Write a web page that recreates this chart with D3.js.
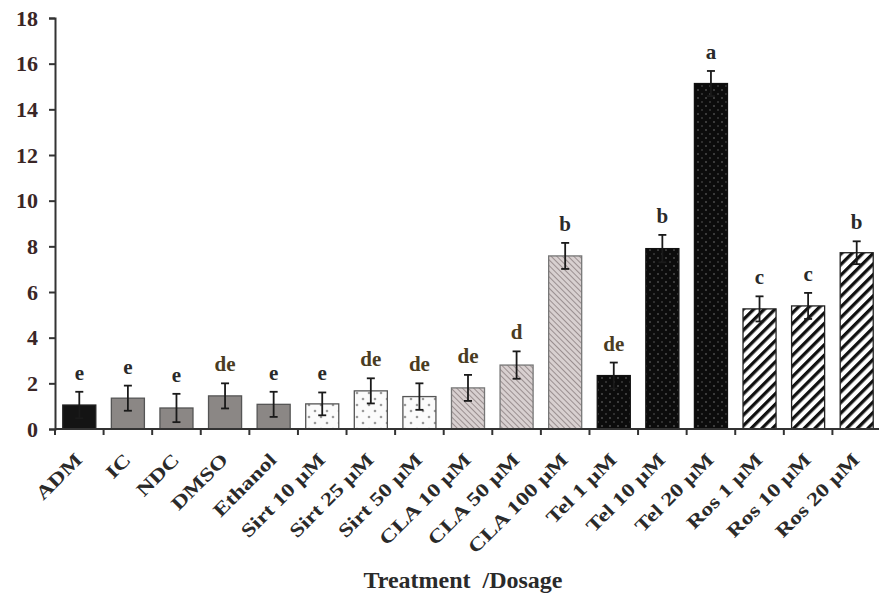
<!DOCTYPE html>
<html>
<head>
<meta charset="utf-8">
<script src="https://cdn.jsdelivr.net/npm/d3@7"></script>
<style>
  html, body { margin: 0; padding: 0; background: #fff; }
  svg { display: block; }
  text { font-family: "Liberation Serif", "Times New Roman", serif; font-weight: bold; }
</style>
</head>
<body>
<svg id="chart" width="879" height="601"></svg>
<script>
// Treatments along the x axis
const categories = ["ADM", "IC", "NDC", "DMSO", "Ethanol",
  "Sirt 10 µM", "Sirt 25 µM", "Sirt 50 µM",
  "CLA 10 µM", "CLA 50 µM", "CLA 100 µM",
  "Tel 1 µM", "Tel 10 µM", "Tel 20 µM",
  "Ros 1 µM", "Ros 10 µM", "Ros 20 µM"];

// Treatment group of each bar (drives the fill)
const groups = ["adm", "control", "control", "control", "control",
  "sirt", "sirt", "sirt",
  "cla", "cla", "cla",
  "tel", "tel", "tel",
  "ros", "ros", "ros"];

// Mean response and standard error
const means  = [1.05, 1.35, 0.92, 1.45, 1.08, 1.1, 1.67, 1.42, 1.8, 2.8, 7.58, 2.34, 7.9, 15.13, 5.26, 5.39, 7.72];
const errors = [0.58, 0.55, 0.62, 0.55, 0.55, 0.5, 0.55, 0.58, 0.57, 0.6, 0.57, 0.57, 0.6, 0.55, 0.55, 0.57, 0.5];

// Significance letters
const letters = ["e", "e", "e", "de", "e", "e", "de", "de", "de", "d", "b", "de", "b", "a", "c", "c", "b"];

const yTicks = [0, 2, 4, 6, 8, 10, 12, 14, 16, 18];
const xTitle = "Treatment  /Dosage";

(function draw() {
  const svg = d3.select("#chart");
  const W = 879, H = 601;
  const mLeft = 55, mRight = 881, mTop = 18, base = 429;

  svg.append("rect").attr("width", W).attr("height", H).attr("fill", "#fff");

  // ---- fill patterns ----
  const defs = svg.append("defs");

  // white with sparse grey dots
  const pSirt = defs.append("pattern").attr("id", "p-sirt")
    .attr("patternUnits", "userSpaceOnUse").attr("width", 12).attr("height", 12);
  pSirt.append("rect").attr("width", 12).attr("height", 12).attr("fill", "#fbfbfb");
  pSirt.append("circle").attr("cx", 3).attr("cy", 3).attr("r", 1.3).attr("fill", "#9a9a9a");
  pSirt.append("circle").attr("cx", 9).attr("cy", 9).attr("r", 1.3).attr("fill", "#9a9a9a");

  // fine back-slash hatch on pale grey
  const pCla = defs.append("pattern").attr("id", "p-cla")
    .attr("patternUnits", "userSpaceOnUse").attr("width", 4).attr("height", 4)
    .attr("patternTransform", "rotate(-45)");
  pCla.append("rect").attr("width", 4).attr("height", 4).attr("fill", "#d8d0d0");
  pCla.append("line").attr("x1", 0).attr("y1", 0).attr("x2", 0).attr("y2", 4)
    .attr("stroke", "#8a7f80").attr("stroke-width", 1.6);

  // black with faint dots
  const pTel = defs.append("pattern").attr("id", "p-tel")
    .attr("patternUnits", "userSpaceOnUse").attr("width", 8).attr("height", 8);
  pTel.append("rect").attr("width", 8).attr("height", 8).attr("fill", "#0c0c0c");
  pTel.append("circle").attr("cx", 2).attr("cy", 2).attr("r", 1).attr("fill", "#4a4a4a");
  pTel.append("circle").attr("cx", 6).attr("cy", 6).attr("r", 1).attr("fill", "#3a3a3a");

  // bold forward-slash stripes
  const pRos = defs.append("pattern").attr("id", "p-ros")
    .attr("patternUnits", "userSpaceOnUse").attr("width", 7.5).attr("height", 10)
    .attr("patternTransform", "rotate(45)");
  pRos.append("rect").attr("width", 7.5).attr("height", 10).attr("fill", "#fff");
  pRos.append("rect").attr("x", 0).attr("y", 0).attr("width", 3.3).attr("height", 10).attr("fill", "#111");

  const fills = {
    adm: "#141414",
    control: "#8b8785",
    sirt: "url(#p-sirt)",
    cla: "url(#p-cla)",
    tel: "url(#p-tel)",
    ros: "url(#p-ros)"
  };
  const strokes = {
    adm: "#222", control: "#555", sirt: "#555", cla: "#777", tel: "#111", ros: "#222"
  };

  // ---- scales ----
  const x = d3.scaleBand().domain(categories).range([mLeft, mRight])
    .paddingInner(0.32).paddingOuter(0.16);
  const y = d3.scaleLinear().domain([0, 18]).range([base, mTop]);

  const rows = categories.map((c, i) => ({ c, g: groups[i], m: means[i], e: errors[i], l: letters[i] }));

  // ---- bars ----
  svg.append("g").selectAll("rect").data(rows).join("rect")
    .attr("x", d => x(d.c))
    .attr("y", d => y(d.m))
    .attr("width", x.bandwidth())
    .attr("height", d => y(0) - y(d.m))
    .attr("fill", d => fills[d.g])
    .attr("stroke", d => strokes[d.g])
    .attr("stroke-width", 1.3);

  // ---- error bars ----
  const eb = svg.append("g").attr("stroke", "#1a1a1a").attr("stroke-width", 1.8);
  rows.forEach(d => {
    const cx = x(d.c) + x.bandwidth() / 2;
    const y1 = y(d.m + d.e), y2 = y(d.m - d.e);
    eb.append("line").attr("x1", cx).attr("x2", cx).attr("y1", y1).attr("y2", y2);
    eb.append("line").attr("x1", cx - 4).attr("x2", cx + 4).attr("y1", y1).attr("y2", y1);
    eb.append("line").attr("x1", cx - 4).attr("x2", cx + 4).attr("y1", y2).attr("y2", y2);
  });

  // ---- significance letters ----
  svg.append("g").selectAll("text").data(rows).join("text")
    .attr("x", d => x(d.c) + x.bandwidth() / 2)
    .attr("y", d => y(d.m + d.e) - 12)
    .attr("text-anchor", "middle")
    .attr("font-size", 21)
    .attr("fill", d => d.l.length > 1 || d.l === "d" ? "#4a3c22" : "#2a2a2a")
    .text(d => d.l);

  // ---- y axis ----
  const yAxis = svg.append("g").attr("transform", `translate(${mLeft},0)`)
    .call(d3.axisLeft(y).tickValues(yTicks).tickSize(6).tickPadding(11).tickFormat(d3.format("d")));
  yAxis.select(".domain").attr("stroke", "#333").attr("stroke-width", 2);
  yAxis.selectAll(".tick line").attr("stroke", "#333").attr("stroke-width", 2);
  yAxis.selectAll(".tick text")
    .attr("font-size", 22).attr("fill", "#3a2626")
    .attr("font-family", "Liberation Serif, serif").attr("font-weight", "bold");

  // ---- x axis (ticks at category boundaries) ----
  const step = x.step();
  const bounds = categories.map(c => x(c) - step * x.paddingInner() / 2).concat([mRight]);
  const xg = svg.append("g");
  xg.append("line").attr("x1", mLeft).attr("x2", W).attr("y1", base).attr("y2", base)
    .attr("stroke", "#333").attr("stroke-width", 2);
  xg.selectAll("line.t").data(bounds).join("line").attr("class", "t")
    .attr("x1", d => d).attr("x2", d => d).attr("y1", base).attr("y2", base + 6)
    .attr("stroke", "#333").attr("stroke-width", 2);

  // slanted category labels, widened along the baseline
  xg.selectAll("text").data(categories).join("text")
    .attr("transform", d => `translate(${x(d) + x.bandwidth() / 2 + 4},${base + 32}) rotate(-45) scale(1.25,1)`)
    .attr("text-anchor", "end")
    .attr("font-size", 19)
    .attr("fill", "#2a2a2a")
    .text(d => d);

  // ---- axis title ----
  svg.append("text")
    .attr("x", 463).attr("y", 588)
    .attr("text-anchor", "middle")
    .attr("font-size", 24)
    .attr("fill", "#2a2a2a")
    .style("white-space", "pre")
    .text(xTitle);
})();
</script>
</body>
</html>
